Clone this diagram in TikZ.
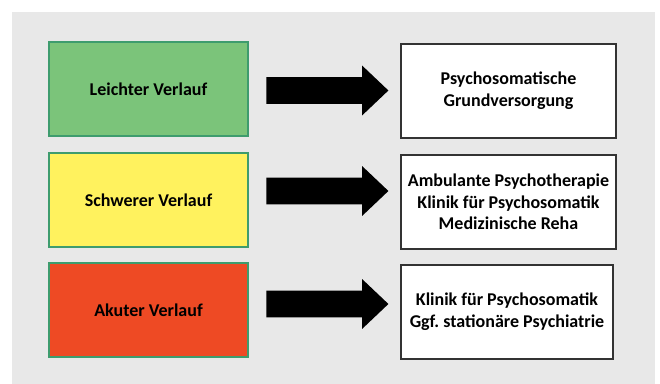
\documentclass[tikz,border=0pt]{standalone}
\usepackage{fontspec}
\setmainfont{Carlito}
\usetikzlibrary{positioning, shapes.arrows}
\definecolor{bg}{HTML}{E8E8E8}
\definecolor{gruen}{HTML}{7BC47A}
\definecolor{gelb}{HTML}{FFF25E}
\definecolor{rot}{HTML}{EE4A24}
\definecolor{rand}{HTML}{3E9C6E}
\tikzstyle{lvl} = [rectangle, draw=rand, line width=0.6pt, minimum width=99.5pt, minimum height=47pt, font=\fontsize{9}{10.5}\selectfont\bfseries]
\tikzstyle{care} = [rectangle, draw=black!80, fill=white, line width=0.6pt, minimum height=47pt, align=center, font=\fontsize{9}{10.8}\selectfont\bfseries]
\tikzstyle{pfeil} = [single arrow, fill=black, inner sep=0pt, text height=6.5pt, text depth=6.5pt, minimum height=61pt, single arrow head extend=5.75pt, single arrow tip angle=87, single arrow head indent=0pt, anchor=tail]

\begin{document}
\begin{tikzpicture}[x=0.5pt, y=-0.5pt]

    \useasboundingbox (0,0) rectangle (660,384);
    \fill[bg] (12,12) rectangle (655,384);

    \node[lvl, fill=gruen] (L) at (148.5,89) {Leichter Verlauf};
    \node[lvl, fill=gelb] (S) at (148.5,200) {Schwerer Verlauf};
    \node[lvl, fill=rot] (A) at (148.5,310) {Akuter Verlauf};

    \node[care, minimum width=107.5pt] (G) at (508.5,91) {Psychosomatische\\Grundversorgung};
    \node[care, minimum width=107.5pt] (K) at (508.5,202) {Ambulante Psychotherapie\\Klinik für Psychosomatik\\Medizinische Reha};
    \node[care, minimum width=106pt] (P) at (507,312) {Klinik für Psychosomatik\\Ggf.\ stationäre Psychiatrie};

    \node[pfeil] (p1) at (266,90.5) {};
    \node[pfeil] (p2) at (266,191) {};
    \node[pfeil] (p3) at (266,304) {};

\end{tikzpicture}
\end{document}
